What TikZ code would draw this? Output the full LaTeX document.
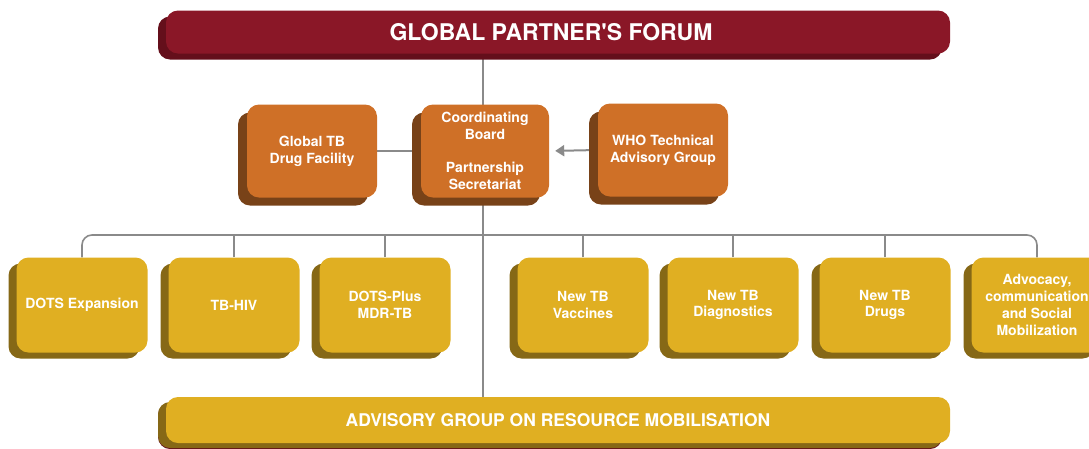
\documentclass[tikz,border=0pt]{standalone}
\usepackage{fontspec}
\setmainfont{TeX Gyre Heros}
\usetikzlibrary{arrows.meta,shadows,backgrounds}
\definecolor{forumred}{RGB}{138, 23, 39}
\definecolor{forumdark}{RGB}{100, 15, 27}
\definecolor{boardorange}{RGB}{207, 112, 39}
\definecolor{boarddark}{RGB}{120, 66, 24}
\definecolor{teamyellow}{RGB}{224, 175, 34}
\definecolor{teamdark}{RGB}{134, 104, 22}
\definecolor{linkgray}{RGB}{138, 138, 138}

\begin{document}
\begin{tikzpicture}[x=1pt, y=-1pt,
        slab/.style    = {rounded corners=12pt, text=white, align=center, inner sep=0pt,
                          font=\fontsize{14}{16.7}\selectfont\bfseries},
        banner/.style  = {slab, fill=forumred, minimum width=784pt, minimum height=43pt,
                          font=\fontsize{23}{26}\selectfont\bfseries,
                          general shadow={fill=forumdark, shadow xshift=-8pt, shadow yshift=-6pt}},
        board/.style   = {slab, fill=boardorange, minimum width=130pt, minimum height=93pt,
                          general shadow={fill=boarddark, shadow xshift=-9pt, shadow yshift=-8pt}},
        team/.style    = {slab, fill=teamyellow, minimum width=131pt, minimum height=95pt,
                          general shadow={fill=teamdark, shadow xshift=-8pt, shadow yshift=-6pt}},
        link/.style    = {draw=linkgray, line width=2pt}]
    % Frame to ensure alignment:
    \useasboundingbox                                   (   0,   0) rectangle (1089, 448);
    \coordinate (bus)                                   at (   0, 235);

    % Forum and resource banners
    \node[banner]                            (forum)    at ( 558,  32) {GLOBAL PARTNER\textquotesingle S FORUM\kern14pt};
    \node[banner, fill=teamyellow, general shadow={fill=teamdark, shadow xshift=-8pt, shadow yshift=-5pt},
          minimum height=46pt, font=\fontsize{17.5}{20}\selectfont\bfseries]
                                             (resource) at ( 558, 420) {ADVISORY GROUP ON RESOURCE MOBILISATION};

    % Board row
    \node[board]                             (gdf)      at ( 312, 151) {Global TB\\Drug Facility};
    \node[board, minimum width=128pt]        (coord)    at ( 485, 151) {Coordinating\\Board\\[16.7pt]Partnership\\Secretariat};
    \node[board]                             (who)      at ( 663, 150) {WHO Technical\\Advisory Group};

    % Working groups
    \node[team]                              (dots)     at (  82, 305) {DOTS Expansion};
    \node[team]                              (tbhiv)    at ( 234, 305) {TB-HIV};
    \node[team]                              (dotsplus) at ( 385, 305) {DOTS-Plus\\MDR-TB};
    \node[team]                              (vacc)     at ( 583, 305) {New TB\\Vaccines};
    \node[team]                              (diag)     at ( 733, 305) {New TB\\Diagnostics};
    \node[team]                              (drugs)    at ( 885, 305) {New TB\\Drugs};
    \node[team]                              (advo)     at (1037, 305) {Advocacy,\\communication\\and Social\\Mobilization};

    \begin{scope}[on background layer]
        \draw[link]                     (forum.south -| 483, 0) -- (resource.north -| 483, 0);
        \draw[link, line width=1.6pt, rounded corners=10pt]
                                        (dots.north) -- (dots.north |- bus) -- (advo.north |- bus) -- (advo.north);
        \foreach \grp in {tbhiv, dotsplus, vacc, diag, drugs}
            \draw[link]                 (\grp.north) -- (\grp.north |- bus);
        \draw[link]                     (gdf.east) -- (coord.west);
    \end{scope}
    \draw[link, -{Triangle[length=9pt, width=11pt]}, shorten >=6pt, shorten <=9pt] (who.west) -- (coord.east);
\end{tikzpicture}
\end{document}
